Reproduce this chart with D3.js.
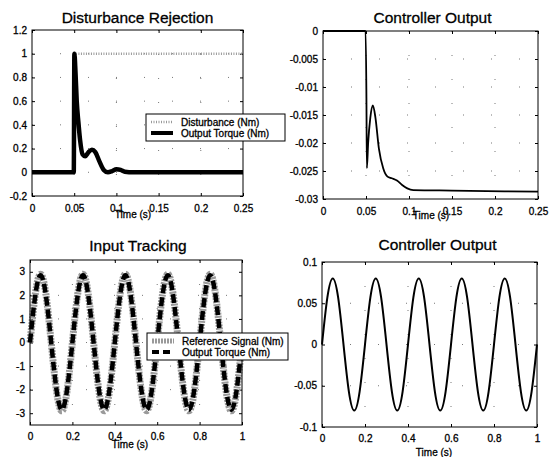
<!DOCTYPE html>
<html>
<head>
<meta charset="utf-8">
<script src="https://cdn.jsdelivr.net/npm/d3@7"></script>
<style>
  body { margin: 0; background: #fff; }
  text { font-family: "Liberation Sans", Arial, sans-serif; fill: #000; stroke: #000; stroke-width: 0.3px; }
</style>
</head>
<body>
<svg id="chart" width="549" height="457"></svg>
<script>
// ---- data ----
// Disturbance Rejection
var distTime  = [0, 0.05, 0.05, 0.25];
var distValue = [0, 0, 1, 1];
var torqueTime  = [0, 0.0495, 0.0502, 0.0515, 0.053, 0.055, 0.057, 0.06, 0.063, 0.067, 0.071, 0.075, 0.08, 0.085, 0.09, 0.095, 0.1, 0.105, 0.11, 0.12, 0.25];
var torqueValue = [0, 0, 1.0, 0.85, 0.6, 0.42, 0.27, 0.15, 0.135, 0.17, 0.19, 0.17, 0.09, 0.02, 0.0, 0.01, 0.025, 0.02, 0.005, 0, 0];

// Controller Output (disturbance)
var ctrlTime  = [0, 0.0495, 0.0505, 0.051, 0.0525, 0.055, 0.058, 0.061, 0.065, 0.07, 0.075, 0.08, 0.086, 0.092, 0.098, 0.105, 0.15, 0.25];
var ctrlValue = [0, 0, -0.012, -0.0245, -0.02, -0.0155, -0.0133, -0.0155, -0.021, -0.0245, -0.026, -0.0263, -0.0267, -0.0275, -0.0281, -0.0284, -0.0285, -0.0287];

// Input Tracking + Controller Output (tracking)
var trackTime = [0, 0.025, 0.05, 0.075, 0.1, 0.125, 0.15, 0.175,
                 0.2, 0.225, 0.25, 0.275, 0.3, 0.325, 0.35, 0.375,
                 0.4, 0.425, 0.45, 0.475, 0.5, 0.525, 0.55, 0.575,
                 0.6, 0.625, 0.65, 0.675, 0.7, 0.725, 0.75, 0.775,
                 0.8, 0.825, 0.85, 0.875, 0.9, 0.925, 0.95, 0.975, 1];
var refValue = [0, 2.05, 2.9, 2.05, 0, -2.05, -2.9, -2.05,
                0, 2.05, 2.9, 2.05, 0, -2.05, -2.9, -2.05,
                0, 2.05, 2.9, 2.05, 0, -2.05, -2.9, -2.05,
                0, 2.05, 2.9, 2.05, 0, -2.05, -2.9, -2.05,
                0, 2.05, 2.9, 2.05, 0, -2.05, -2.9, -2.05, 0];
var outValue = [0, 2.0, 2.85, 2.0, 0, -2.0, -2.85, -2.0,
                0, 2.0, 2.85, 2.0, 0, -2.0, -2.85, -2.0,
                0, 2.0, 2.85, 2.0, 0, -2.0, -2.85, -2.0,
                0, 2.0, 2.85, 2.0, 0, -2.0, -2.85, -2.0,
                0, 2.0, 2.85, 2.0, 0, -2.0, -2.85, -2.0, 0];
var ctrl2Value = [0, 0.057, 0.08, 0.057, 0, -0.057, -0.08, -0.057,
                  0, 0.057, 0.08, 0.057, 0, -0.057, -0.08, -0.057,
                  0, 0.057, 0.08, 0.057, 0, -0.057, -0.08, -0.057,
                  0, 0.057, 0.08, 0.057, 0, -0.057, -0.08, -0.057,
                  0, 0.057, 0.08, 0.057, 0, -0.057, -0.08, -0.057, 0];

// ticks
var shortXTicks  = [0, 0.05, 0.1, 0.15, 0.2, 0.25];
var shortXLabels = ["0", "0.05", "0.1", "0.15", "0.2", "0.25"];
var longXTicks  = [0, 0.2, 0.4, 0.6, 0.8, 1];
var longXLabels = ["0", "0.2", "0.4", "0.6", "0.8", "1"];
var distYTicks  = [-0.2, 0, 0.2, 0.4, 0.6, 0.8, 1, 1.2];
var distYLabels = ["-0.2", "0", "0.2", "0.4", "0.6", "0.8", "1", "1.2"];
var ctrlYTicks  = [-0.03, -0.025, -0.02, -0.015, -0.01, -0.005, 0];
var ctrlYLabels = ["-0.03", "-0.025", "-0.02", "-0.015", "-0.01", "-0.005", "0"];
var trackYTicks  = [-3, -2, -1, 0, 1, 2, 3];
var trackYLabels = ["-3", "-2", "-1", "0", "1", "2", "3"];
var ctrl2YTicks  = [-0.1, -0.05, 0, 0.05, 0.1];
var ctrl2YLabels = ["-0.1", "-0.05", "0", "0.05", "0.1"];

var svg = d3.select("#chart");

function zip(xs, ys) {
  return xs.map(function(d, i) { return [d, ys[i]]; });
}

function panel(p) {
  var x = d3.scaleLinear().domain(p.xDomain).range([p.left, p.right]);
  var y = d3.scaleLinear().domain(p.yDomain).range([p.bottom, p.top]);
  var g = svg.append("g");

  // sparse dotted grid (what is left of it in the scan)
  g.selectAll(".gx").data(p.xTicks.slice(1, -1)).enter().append("line")
    .attr("x1", function(d) { return x(d); }).attr("x2", function(d) { return x(d); })
    .attr("y1", p.top).attr("y2", p.bottom)
    .style("stroke", "#777").style("stroke-width", 1)
    .style("stroke-dasharray", "1,23");
  g.selectAll(".gy").data(p.yTicks.slice(1, -1)).enter().append("line")
    .attr("y1", function(d) { return y(d); }).attr("y2", function(d) { return y(d); })
    .attr("x1", p.left).attr("x2", p.right)
    .style("stroke", "#777").style("stroke-width", 1)
    .style("stroke-dasharray", "1,27");

  g.append("g").attr("transform", "translate(0," + p.bottom + ")")
    .call(d3.axisBottom(x).tickValues(p.xTicks)
      .tickFormat(function(d, i) { return p.xLabels[i]; })
      .tickSizeInner(-3).tickSizeOuter(0).tickPadding(p.xPad));
  g.append("g").attr("transform", "translate(" + p.left + ",0)")
    .call(d3.axisLeft(y).tickValues(p.yTicks)
      .tickFormat(function(d, i) { return p.yLabels[i]; })
      .tickSizeInner(-3).tickSizeOuter(0).tickPadding(5));
  g.append("g").attr("transform", "translate(0," + p.top + ")")
    .call(d3.axisTop(x).tickValues(p.xTicks).tickFormat("").tickSizeInner(-3).tickSizeOuter(0));
  g.append("g").attr("transform", "translate(" + p.right + ",0)")
    .call(d3.axisRight(y).tickValues(p.yTicks).tickFormat("").tickSizeInner(-3).tickSizeOuter(0));
  g.selectAll(".domain").remove();
  g.selectAll(".tick line").style("stroke", "#000");
  g.selectAll(".tick text").style("font-size", "10px").style("fill", "#000")
    .style("font-family", "'Liberation Sans', Arial, sans-serif");

  var plot = g.append("g");
  p.series.forEach(function(s) {
    var line = d3.line()
      .x(function(d) { return x(d[0]); })
      .y(function(d) { return y(d[1]); })
      .curve(s.curve || d3.curveLinear);
    plot.append("path")
      .attr("d", line(zip(s.t, s.v)))
      .style("fill", "none")
      .style("stroke", s.color)
      .style("stroke-width", s.width)
      .style("stroke-dasharray", s.dash || null)
      .style("stroke-linejoin", "round");
  });

  g.append("rect")
    .attr("x", p.left).attr("y", p.top)
    .attr("width", p.right - p.left).attr("height", p.bottom - p.top)
    .style("fill", "none").style("stroke", "#000").style("stroke-width", 1);

  svg.append("text")
    .attr("x", (p.left + p.right) / 2 + p.titleDx).attr("y", p.titleY)
    .attr("text-anchor", "middle")
    .style("font-size", "15.5px")
    .text(p.title);

  svg.append("text")
    .attr("x", p.timeX).attr("y", p.timeY)
    .attr("text-anchor", "middle")
    .style("font-size", "10px")
    .text("Time (s)");

  return { x: x, y: y };
}

function legend(lx, ly, w, h, items) {
  var g = svg.append("g");
  g.append("rect").attr("x", lx).attr("y", ly).attr("width", w).attr("height", h)
    .style("fill", "#fff").style("stroke", "#000").style("stroke-width", 1);
  items.forEach(function(it, i) {
    var cy = ly + 8 + i * 11;
    g.append("line")
      .attr("x1", lx + 5).attr("x2", lx + 27).attr("y1", cy).attr("y2", cy)
      .style("stroke", it.color).style("stroke-width", it.width)
      .style("stroke-dasharray", it.dash || null);
    g.append("text").attr("x", lx + 35).attr("y", cy + 3.5)
      .style("font-size", "10px").text(it.label);
  });
}

// Disturbance Rejection
panel({
  left: 32, right: 243, top: 30, bottom: 196,
  xDomain: [0, 0.25], yDomain: [-0.2, 1.2],
  xTicks: shortXTicks, xLabels: shortXLabels, xPad: 9,
  yTicks: distYTicks, yLabels: distYLabels,
  title: "Disturbance Rejection", titleDx: 0, titleY: 23,
  timeX: 133, timeY: 218,
  series: [
    { t: distTime, v: distValue, color: "#999", width: 2.5, dash: "1,1.5" },
    { t: torqueTime, v: torqueValue, color: "#000", width: 4.5, curve: d3.curveMonotoneX }
  ]
});
legend(146, 114, 139, 27, [
  { label: "Disturbance (Nm)", color: "#999", width: 2.5, dash: "1,1.5" },
  { label: "Output Torque (Nm)", color: "#000", width: 4 }
]);

// Controller Output (disturbance)
panel({
  left: 323, right: 538, top: 31, bottom: 199,
  xDomain: [0, 0.25], yDomain: [-0.03, 0],
  xTicks: shortXTicks, xLabels: shortXLabels, xPad: 9,
  yTicks: ctrlYTicks, yLabels: ctrlYLabels,
  title: "Controller Output", titleDx: 2, titleY: 23,
  timeX: 431, timeY: 219,
  series: [
    { t: ctrlTime, v: ctrlValue, color: "#000", width: 1.8, curve: d3.curveMonotoneX }
  ]
});

// Input Tracking
panel({
  left: 30, right: 242, top: 260, bottom: 425,
  xDomain: [0, 1], yDomain: [-3.5, 3.5],
  xTicks: longXTicks, xLabels: longXLabels, xPad: 8,
  yTicks: trackYTicks, yLabels: trackYLabels,
  title: "Input Tracking", titleDx: 2, titleY: 251,
  timeX: 130, timeY: 448,
  series: [
    { t: trackTime, v: refValue, color: "#9a9a9a", width: 7, dash: "2,1", curve: d3.curveNatural },
    { t: trackTime, v: outValue, color: "#000", width: 4.5, dash: "9,4", curve: d3.curveNatural }
  ]
});
legend(147, 333, 141, 27, [
  { label: "Reference Signal (Nm)", color: "#9a9a9a", width: 5, dash: "2,1" },
  { label: "Output Torque (Nm)", color: "#000", width: 4, dash: "7,4" }
]);

// Controller Output (tracking)
panel({
  left: 322, right: 537, top: 262, bottom: 427,
  xDomain: [0, 1], yDomain: [-0.1, 0.1],
  xTicks: longXTicks, xLabels: longXLabels, xPad: 8,
  yTicks: ctrl2YTicks, yLabels: ctrl2YLabels,
  title: "Controller Output", titleDx: 8, titleY: 250,
  timeX: 434, timeY: 456,
  series: [
    { t: trackTime, v: ctrl2Value, color: "#000", width: 2, curve: d3.curveNatural }
  ]
});
</script>
</body>
</html>
